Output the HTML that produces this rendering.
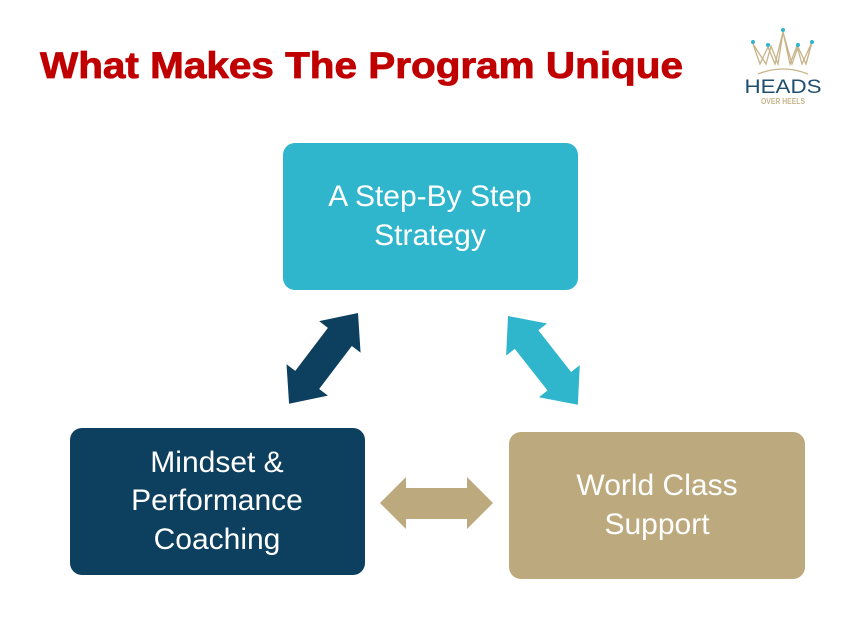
<!DOCTYPE html>
<html><head><style>body{margin:0;background:#fff}svg{display:block}</style></head>
<body>
<svg width="866" height="620" viewBox="0 0 866 620" xmlns="http://www.w3.org/2000/svg" font-family="Liberation Sans, sans-serif">
<text x="40" y="78" font-size="37" font-weight="bold" fill="#c00000" stroke="#c00000" stroke-width="0.8" textLength="643" lengthAdjust="spacingAndGlyphs">What Makes The Program Unique</text>
<!-- logo -->
<g fill="none" stroke="#c8b48a" stroke-width="1.3">
<polyline points="753,44 766,64 771,46 778,64 783,32 790,64 797,46 802,64 812,42 806,64"/>
<polyline points="753,44 760,64 768,47 775,64 783,32 792,64 798,47 806,64 812,42"/>
<path d="M758 74 Q783 64 808 74"/>
</g>
<g fill="#2fb5cc"><circle cx="783" cy="30" r="2"/><circle cx="753" cy="42" r="2"/><circle cx="768" cy="45" r="2"/><circle cx="798" cy="45" r="2"/><circle cx="812" cy="42" r="2"/></g>
<text x="783" y="93" font-size="19" fill="#1f4e6e" text-anchor="middle" textLength="77" lengthAdjust="spacingAndGlyphs">HEADS</text>
<text x="783" y="104" font-size="8" font-weight="bold" fill="#c8b48a" text-anchor="middle" textLength="44" lengthAdjust="spacingAndGlyphs">OVER HEELS</text>
<!-- boxes -->
<rect x="283" y="143" width="295" height="147" rx="12" fill="#2fb5cc"/>
<rect x="70" y="428" width="295" height="147" rx="12" fill="#0d3f5e"/>
<rect x="509" y="432" width="296" height="147" rx="12" fill="#bda97e"/>
<g fill="#fff" font-size="30" text-anchor="middle">
<text x="430" y="206">A Step-By Step</text>
<text x="430" y="245">Strategy</text>
<text x="217" y="472">Mindset &amp;</text>
<text x="217" y="510">Performance</text>
<text x="217" y="549">Coaching</text>
<text x="657" y="495">World Class</text>
<text x="657" y="534">Support</text>
</g>
<!-- arrows -->
<g transform="translate(358,313) rotate(127.2)">
<polygon points="0,0 30,-26 30,-15 84,-15 84,-26 114,0 84,26 84,15 30,15 30,26" fill="#0d3f5e"/>
</g>
<g transform="translate(508,316) rotate(51.8)">
<polygon points="0,0 30,-26 30,-15 83,-15 83,-26 113,0 83,26 83,15 30,15 30,26" fill="#2fb5cc"/>
</g>
<polygon points="380,503 406,477 406,488 467,488 467,477 493,503 467,529 467,519 406,519 406,529" fill="#bda97e"/>
</svg>
</body></html>
